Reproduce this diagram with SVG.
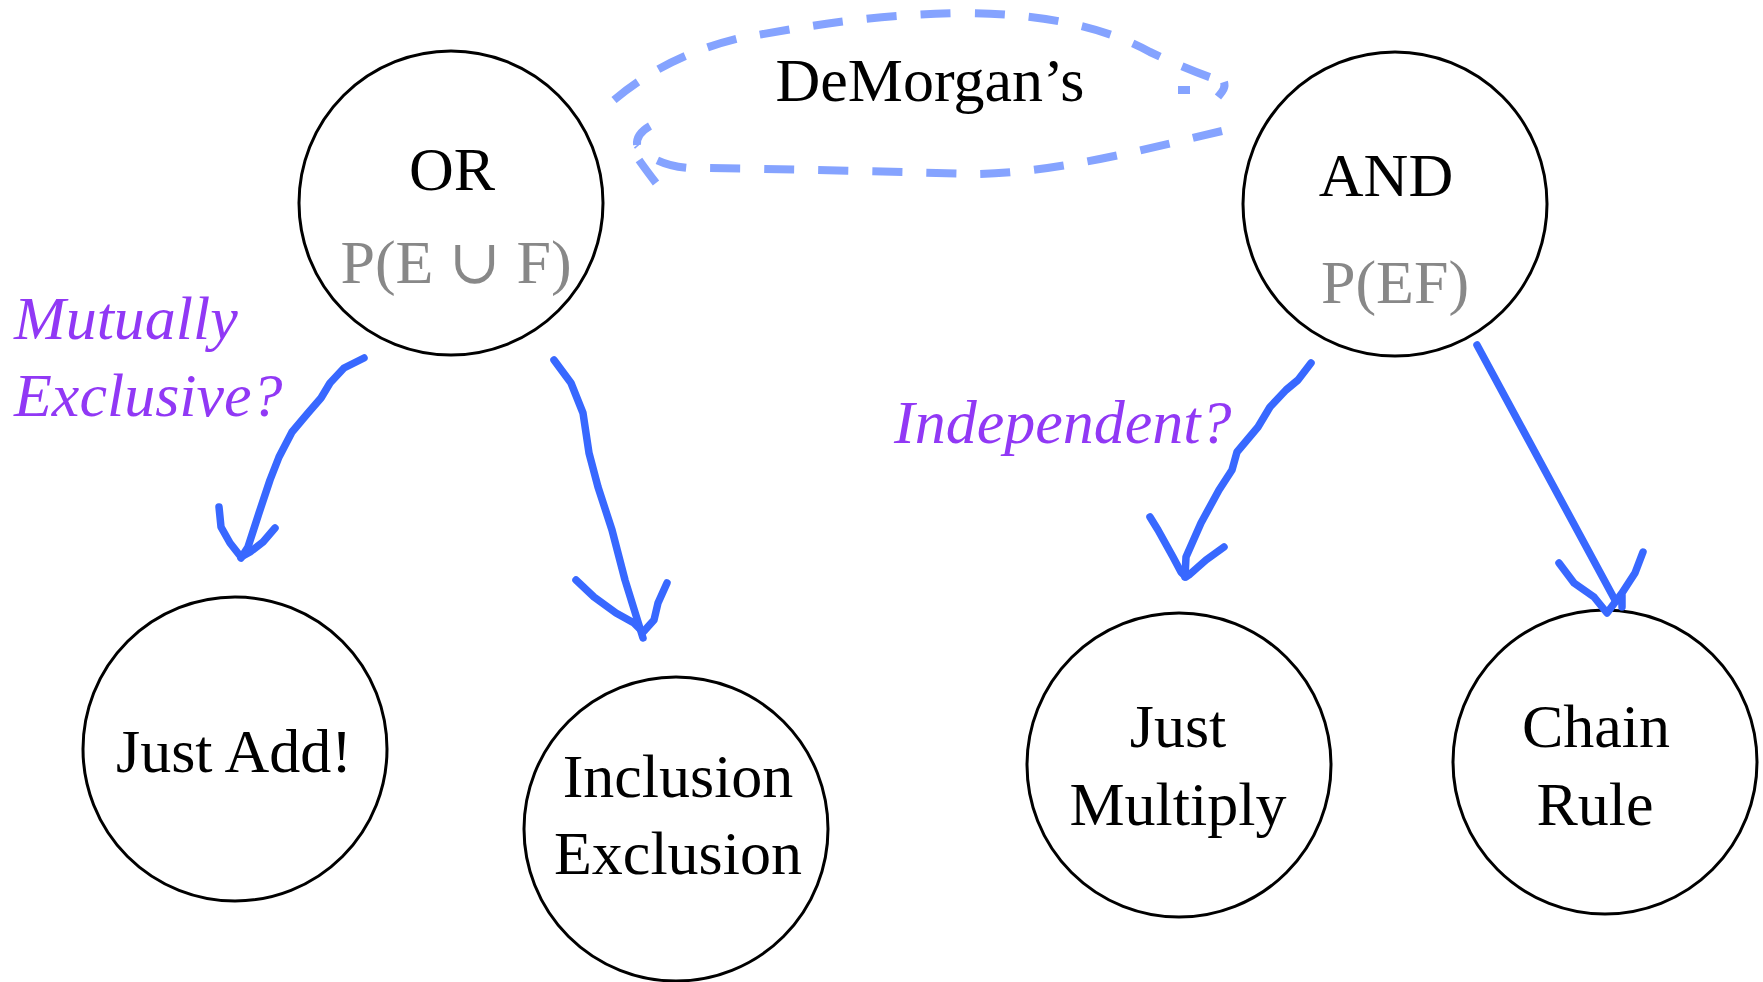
<svg xmlns="http://www.w3.org/2000/svg" width="1763" height="982" viewBox="0 0 1763 982">
<style>
.node circle{fill:#fff;stroke:#000;stroke-width:3}
text{font-family:"Liberation Serif","Times New Roman","DejaVu Serif",serif;font-size:62px;text-anchor:middle;fill:#000}
.sub{fill:#888}
.q{fill:#9138f5;font-style:italic;text-anchor:start}
.arr{fill:none;stroke:#3868ff;stroke-width:7.5;stroke-linecap:round;stroke-linejoin:round}
.dm{fill:none;stroke:#85a3ff;stroke-width:8;stroke-dasharray:30 24;stroke-linecap:butt;stroke-linejoin:round}
</style>
<rect width="1763" height="982" fill="#fff"/>
<g id="or" class="node"><circle cx="451" cy="203" r="152"/><text x="452" y="190">OR</text><text class="sub" x="456" y="283">P(E ∪ F)</text></g>
<g id="and" class="node"><circle cx="1395" cy="204" r="152"/><text x="1386" y="196">AND</text><text class="sub" x="1395" y="303">P(EF)</text></g>
<g id="justadd" class="node"><circle cx="235" cy="749" r="152"/><text x="234" y="772">Just Add!</text></g>
<g id="inclusion" class="node"><circle cx="676" cy="829" r="152"/><text x="678" y="797">Inclusion</text><text x="678" y="874">Exclusion</text></g>
<g id="justmultiply" class="node"><circle cx="1179" cy="765" r="152"/><text x="1178" y="747">Just</text><text x="1178" y="825">Multiply</text></g>
<g id="chainrule" class="node"><circle cx="1605" cy="762" r="152"/><text x="1596" y="747">Chain</text><text x="1595" y="825">Rule</text></g>
<g id="labels">
<text x="930" y="101">DeMorgan’s</text>
<text class="q" x="14" y="339">Mutually</text>
<text class="q" x="14" y="416">Exclusive?</text>
<text class="q" x="894" y="443">Independent?</text>
</g>
<g id="connectors">
<path class="arr" d="M364 358 L344 368 L330 383 L321 398 L308 413 L292 432 L279 457 L270 480 L259 513 L248 547 L241 558"/>
<path class="arr" d="M219 507 L221 527 L230 543 L241 557 L250 552 L263 542 L275 528"/>
<path class="arr" d="M554 360 L571 383 L583 413 L589 453 L598 487 L612 530 L625 580 L643 638"/>
<path class="arr" d="M576 580 L594 597 L616 613 L634 623 L643 632 L645 630 L654 620 L658 603 L667 583"/>
<path class="arr" d="M1311 363 L1298 380 L1286 390 L1270 407 L1258 427 L1237 452 L1232 470 L1219 490 L1201 523 L1186 557 L1185 577"/>
<path class="arr" d="M1150 517 L1158 530 L1173 557 L1181 572 L1186 577 L1189 575 L1206 560 L1224 547"/>
<path class="arr" d="M1477 345 L1615 600"/>
<path class="arr" d="M1559 563 L1574 583 L1594 597 L1607 613 L1622 593 L1622 607 L1622 593 L1635 573 L1643 552"/>
<path class="dm" d="M614 100 C650 70 690 50 740 38 C800 28 860 15 960 13 C1050 13 1110 30 1150 52 C1180 66 1205 76 1224 82"/>
<path class="dm" d="M1178 90 L1190 90"/>
<path class="dm" d="M1224 82 C1226 88 1222 92 1218 97" style="stroke-dasharray:none"/>
<path class="dm" d="M1222 131 C1150 148 1060 172 980 174 C900 172 750 168 689 168 C665 166 648 158 637 145"/>
<path class="dm" d="M650 126 Q636 134 637 145" style="stroke-dasharray:none"/>
<path class="dm" d="M639 160 Q646 170 656 183" style="stroke-dasharray:none"/>
</g>
</svg>
